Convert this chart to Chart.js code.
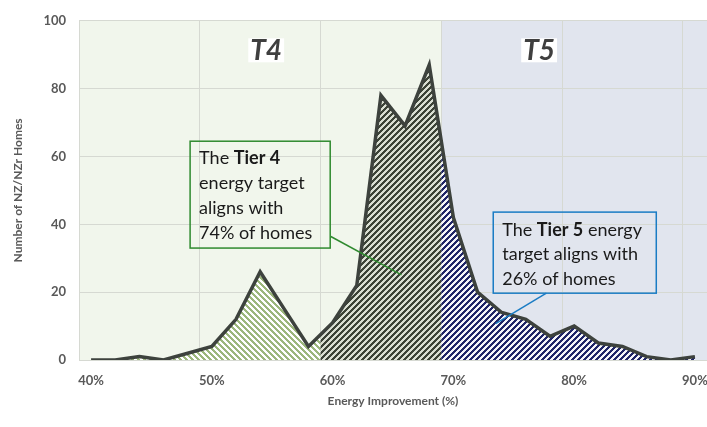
<!DOCTYPE html>
<html>
<head>
<meta charset="utf-8">
<script src="https://cdn.jsdelivr.net/npm/chart.js@4.4.0/dist/chart.umd.min.js"></script>
<style>
  html, body { margin: 0; padding: 0; background: #ffffff; }
  #wrap { width: 707px; height: 427px; }
</style>
</head>
<body>
<div id="wrap"><canvas id="chart" width="707" height="427"></canvas></div>
<script>
// Energy improvement bins (%) and number of NZ/NZr homes in each bin
const improvement = [40, 42, 44, 46, 48, 50, 52, 54, 56, 58, 60, 62, 64, 66, 68,
                     70, 72, 74, 76, 78, 80, 82, 84, 86, 88, 90];
const homes = [0, 0, 1, 0, 2, 4, 12, 26, 15, 4, 11, 22, 78, 69, 87,
               42, 20, 14, 12, 7, 10, 5, 4, 1, 0, 1];
const tickLabels = ['40%', '50%', '60%', '70%', '80%', '90%'];
const yTicks = [0, 20, 40, 60, 80, 100];
const tierNames = ['T4', 'T5'];
const tierBreak = 69;   // improvement % separating Tier 4 from Tier 5
const shadeBreak = 59;  // improvement % where the darker Tier 4 hatching starts

// Share of homes on each side of the tier boundary
const total = homes.reduce((a, b) => a + b, 0);
const tier4Share = Math.round(100 * homes.filter((h, i) => improvement[i] < tierBreak).reduce((a, b) => a + b, 0) / total);
const tier5Share = 100 - tier4Share;

const FONT = 'Lato, "Open Sans", sans-serif';

function hatch(fg, bg, size, width, dir) {
  const c = document.createElement('canvas');
  c.width = c.height = size;
  const g = c.getContext('2d');
  const img = g.createImageData(size, size);
  const parse = (h) => [parseInt(h.slice(1, 3), 16), parseInt(h.slice(3, 5), 16), parseInt(h.slice(5, 7), 16)];
  const f = parse(fg), b = parse(bg);
  for (let y = 0; y < size; y++) {
    for (let x = 0; x < size; x++) {
      const k = dir > 0 ? (x + y) % size : (((x - y) % size) + size) % size;
      const col = k < width ? f : b;
      const o = (y * size + x) * 4;
      img.data[o] = col[0]; img.data[o + 1] = col[1]; img.data[o + 2] = col[2]; img.data[o + 3] = 255;
    }
  }
  g.putImageData(img, 0, 0);
  return c;
}

const ctxMain = document.getElementById('chart').getContext('2d');
const patterns = {
  light: ctxMain.createPattern(hatch('#9cb77c', '#ffffff', 6, 3, -1), 'repeat'),
  dark:  ctxMain.createPattern(hatch('#3c4337', '#d9ded2', 6, 3, 1), 'repeat'),
  navy:  ctxMain.createPattern(hatch('#1f2567', '#f4f4f8', 6, 3, 1), 'repeat')
};

// x position (pixels) of an improvement percentage on the category axis
function pctX(scale, pct) {
  return scale.getPixelForValue((pct - improvement[0]) / (improvement[1] - improvement[0]));
}

// Tier background bands
const bandPlugin = {
  id: 'tierBands',
  beforeDraw(chart) {
    const { ctx, chartArea: a, scales: { x } } = chart;
    const split = pctX(x, tierBreak);
    ctx.save();
    ctx.fillStyle = '#f1f6ec';
    ctx.fillRect(a.left, a.top, split - a.left, a.bottom - a.top);
    ctx.fillStyle = '#e1e5ee';
    ctx.fillRect(split, a.top, a.right - split, a.bottom - a.top);
    ctx.restore();
  }
};

// Hatched area under the distribution line, split by tier
const areaPlugin = {
  id: 'tierAreas',
  beforeDatasetsDraw(chart) {
    const { ctx, chartArea: a, scales: { x, y } } = chart;
    const pts = chart.getDatasetMeta(0).data;
    const base = y.getPixelForValue(0);
    const s1 = pctX(x, shadeBreak), s2 = pctX(x, tierBreak);
    const regions = [[a.left, s1, patterns.light], [s1, s2, patterns.dark], [s2, a.right, patterns.navy]];
    regions.forEach(([x0, x1, pat]) => {
      ctx.save();
      ctx.beginPath();
      ctx.rect(x0, a.top, x1 - x0, a.bottom - a.top);
      ctx.clip();
      ctx.beginPath();
      ctx.moveTo(pts[0].x, base);
      pts.forEach(p => ctx.lineTo(p.x, p.y));
      ctx.lineTo(pts[pts.length - 1].x, base);
      ctx.closePath();
      ctx.fillStyle = pat;
      ctx.fill();
      ctx.restore();
    });
  }
};

// Callout boxes and tier titles
const notes = [
  {
    color: '#2f8a2f',
    box: [48.2, 64.5, 59.8, 33.0],
    from: [59.85, 36.4], to: [65.7, 25.1],
    lines: ['The **Tier 4**', 'energy target', 'aligns with', tier4Share + '% of homes'],
    gap: 25, first: 17
  },
  {
    color: '#1a7cc4',
    box: [73.3, 43.6, 86.8, 19.7],
    from: [77.7, 19.7], to: [73.5, 10.7],
    lines: ['The **Tier 5** energy', 'target aligns with', tier5Share + '% of homes'],
    gap: 24.5, first: 18
  }
];
const tierTitles = [
  { text: tierNames[0], pct: 54.5, val: 91.3 },
  { text: tierNames[1], pct: 77.1, val: 91.3 }
];

const notePlugin = {
  id: 'notes',
  afterDatasetsDraw(chart) {
    const { ctx, scales: { x, y } } = chart;
    ctx.save();
    notes.forEach(n => {
      const l = pctX(x, n.box[0]), t = y.getPixelForValue(n.box[1]);
      const r = pctX(x, n.box[2]), b = y.getPixelForValue(n.box[3]);
      ctx.strokeStyle = n.color;
      ctx.lineWidth = 1.5;
      ctx.beginPath();
      ctx.moveTo(pctX(x, n.from[0]), y.getPixelForValue(n.from[1]));
      ctx.lineTo(pctX(x, n.to[0]), y.getPixelForValue(n.to[1]));
      ctx.stroke();
      ctx.strokeRect(l, t, r - l, b - t);
      ctx.fillStyle = '#1a1a1a';
      ctx.textBaseline = 'middle';
      ctx.textAlign = 'left';
      n.lines.forEach((line, i) => {
        let cx = l + 9;
        const cy = t + n.first + i * n.gap;
        line.split('**').forEach((part, j) => {
          ctx.font = (j % 2 ? '700 ' : '400 ') + '18px ' + FONT;
          ctx.fillText(part, cx, cy);
          cx += ctx.measureText(part).width;
        });
      });
    });
    tierTitles.forEach(tt => {
      ctx.font = 'italic 700 28px "Liberation Sans Narrow", ' + FONT;
      const w = ctx.measureText(tt.text).width;
      const cx = pctX(x, tt.pct), cy = y.getPixelForValue(tt.val);
      ctx.fillStyle = '#ffffff';
      ctx.fillRect(cx - w / 2 - 2, cy - 12, w + 4, 24);
      ctx.fillStyle = '#3f3f3f';
      ctx.textAlign = 'center';
      ctx.textBaseline = 'middle';
      ctx.fillText(tt.text, cx, cy + 1);
    });
    ctx.restore();
  }
};

new Chart(ctxMain, {
  type: 'line',
  data: {
    labels: improvement.map(v => v + '%'),
    datasets: [{
      data: homes,
      borderColor: '#3d423d',
      borderWidth: 3.5,
      borderJoinStyle: 'miter',
      pointRadius: 0,
      pointHoverRadius: 0,
      fill: false,
      tension: 0
    }]
  },
  options: {
    responsive: false,
    animation: false,
    devicePixelRatio: 1,
    layout: { padding: { top: 14, right: 0, left: 0, bottom: 0 } },
    plugins: { legend: { display: false }, tooltip: { enabled: false } },
    scales: {
      x: {
        type: 'category',
        offset: true,
        grid: {
          offset: true,
          drawTicks: false,
          color: c => (c.index % 5 === 0 ? '#d6d9d2' : 'rgba(0,0,0,0)')
        },
        border: { display: false },
        ticks: {
          autoSkip: false,
          maxRotation: 0,
          padding: 13,
          color: '#595959',
          font: { family: FONT, size: 13, weight: '700' },
          callback: (v, i) => (tickLabels.includes(improvement[i] + '%') ? improvement[i] + '%' : '')
        },
        title: {
          display: true,
          text: 'Energy Improvement (%)',
          color: '#595959',
          font: { family: FONT, size: 12, weight: '700' },
          padding: { top: 0, bottom: 19 }
        },
        afterFit: s => { s.height = 67; s.paddingLeft = 0; s.paddingRight = 0; }
      },
      y: {
        min: 0,
        max: 100,
        afterBuildTicks: s => { s.ticks = yTicks.map(v => ({ value: v })); },
        grid: { drawTicks: false, color: '#d6d9d2' },
        border: { display: false },
        ticks: {
          padding: 13,
          color: '#595959',
          font: { family: FONT, size: 13, weight: '700' }
        },
        title: {
          display: true,
          text: 'Number of NZ/NZr Homes',
          color: '#595959',
          font: { family: FONT, size: 12, weight: '700' },
          padding: { top: 11, bottom: 0 }
        },
        afterFit: s => { s.width = 79; }
      }
    }
  },
  plugins: [bandPlugin, areaPlugin, notePlugin]
});
</script>
</body>
</html>
